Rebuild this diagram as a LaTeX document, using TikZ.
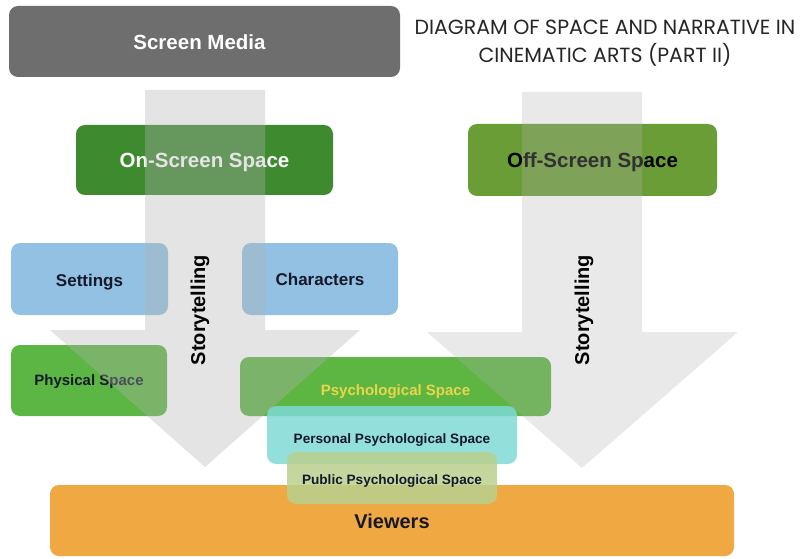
\documentclass[tikz,border=0pt]{standalone}
\usepackage{fontspec}
\setmainfont{Liberation Sans}
\newfontfamily\titlefont{Poppins}
\definecolor{smgray}{HTML}{6E6E6E}
\definecolor{ongreen}{HTML}{3E8A2F}
\definecolor{offgreen}{HTML}{6A9D36}
\definecolor{setblue}{HTML}{93C1E3}
\definecolor{physgreen}{HTML}{5CB643}
\definecolor{psygreen}{HTML}{5DB542}
\definecolor{persteal}{HTML}{7FDAD6}
\definecolor{pubgreen}{HTML}{B9D08F}
\definecolor{vieworange}{HTML}{F0A843}
\definecolor{psyyellow}{HTML}{E9D64C}
\definecolor{darktext}{HTML}{15192A}
\newcommand{\lowr}[2]{\raisebox{-#1}[\height][\depth]{#2}}
\begin{document}
\begin{tikzpicture}[x=1pt,y=-1pt,
  box/.style={rounded corners=9pt, draw=none, align=center, inner sep=0pt, font=\bfseries},
  arrowshape/.style={fill=gray!60, draw=none},
  story/.style={rotate=90, font=\bfseries\fontsize{20}{24}\selectfont, text=black, inner sep=0pt}]
\useasboundingbox (0,0) rectangle (801,559);
\fill[white] (0,0) rectangle (801,559);

% title
\node[font=\titlefont\fontsize{20.5}{28}\selectfont, align=center, text=black!85] (title) at (605,43)
  {DIAGRAM OF SPACE AND NARRATIVE IN\\CINEMATIC ARTS (PART II)};

% boxes
\node[box, fill=smgray, text=white, minimum width=391pt, minimum height=71pt, font=\bfseries\fontsize{20.5}{24}\selectfont] (sm) at (204.5,41.5) {\hspace*{-10pt}\lowr{1pt}{Screen Media}};
\node[box, fill=ongreen, text=white, minimum width=257pt, minimum height=70pt, font=\bfseries\fontsize{20.5}{24}\selectfont] (on) at (204.5,160) {\lowr{2pt}{On-Screen Space}};
\node[box, fill=offgreen, text=black, minimum width=249pt, minimum height=72pt, font=\bfseries\fontsize{20.5}{24}\selectfont] (off) at (592.5,160) {\lowr{2pt}{Off-Screen Space}};
\node[box, fill=setblue, text=darktext, minimum width=157pt, minimum height=72pt, font=\bfseries\fontsize{17}{20}\selectfont] (set) at (89.5,279) {\lowr{3pt}{Settings}};
\node[box, fill=setblue, text=darktext, minimum width=156pt, minimum height=72pt, font=\bfseries\fontsize{17}{20}\selectfont] (char) at (320,279) {Characters};
\node[box, fill=physgreen, text=darktext, minimum width=156pt, minimum height=71pt, font=\bfseries\fontsize{15}{18}\selectfont] (phys) at (89,380.5) {\lowr{1pt}{Physical Space}};
\node[box, fill=vieworange, minimum width=684pt, minimum height=71pt] (view) at (392,520.5) {};
\node[box, fill=psygreen, minimum width=311pt, minimum height=59pt] (psy) at (395.5,386.5) {};
\node[box, fill=persteal, fill opacity=0.85, minimum width=250pt, minimum height=58pt] (pers) at (392,435) {};
\node[box, fill=pubgreen, fill opacity=0.85, minimum width=210pt, minimum height=52pt] (pub) at (392,478) {};

% arrows (semi-transparent, on top)
\fill[arrowshape, opacity=0.35] (145,90) -- (265,90) -- (265,330) -- (360,330) -- (205,467) -- (50,330) -- (145,330) -- cycle;
\fill[arrowshape, opacity=0.28] (522,92) -- (642,92) -- (642,332) -- (738,332) -- (582,468) -- (427,332) -- (522,332) -- cycle;

% labels in lower boxes
\node[text=psyyellow, font=\bfseries\fontsize{15}{18}\selectfont] (psyl) at (psy.center) [yshift=-5pt] {Psychological Space};
\node[text=darktext, font=\bfseries\fontsize{13.6}{16}\selectfont] (persl) at (pers.center) [yshift=-5pt] {Personal Psychological Space};
\node[text=darktext, font=\bfseries\fontsize{13.6}{16}\selectfont] (publ) at (pub.center) [yshift=-3pt] {Public Psychological Space};
\node[text=darktext, font=\bfseries\fontsize{20}{24}\selectfont] (viewl) at (view.center) [yshift=-1pt] {Viewers};

% storytelling
\node[story] (st1) at (200,310) {Storytelling};
\node[story] (st2) at (584,310) {Storytelling};
\end{tikzpicture}
\end{document}
